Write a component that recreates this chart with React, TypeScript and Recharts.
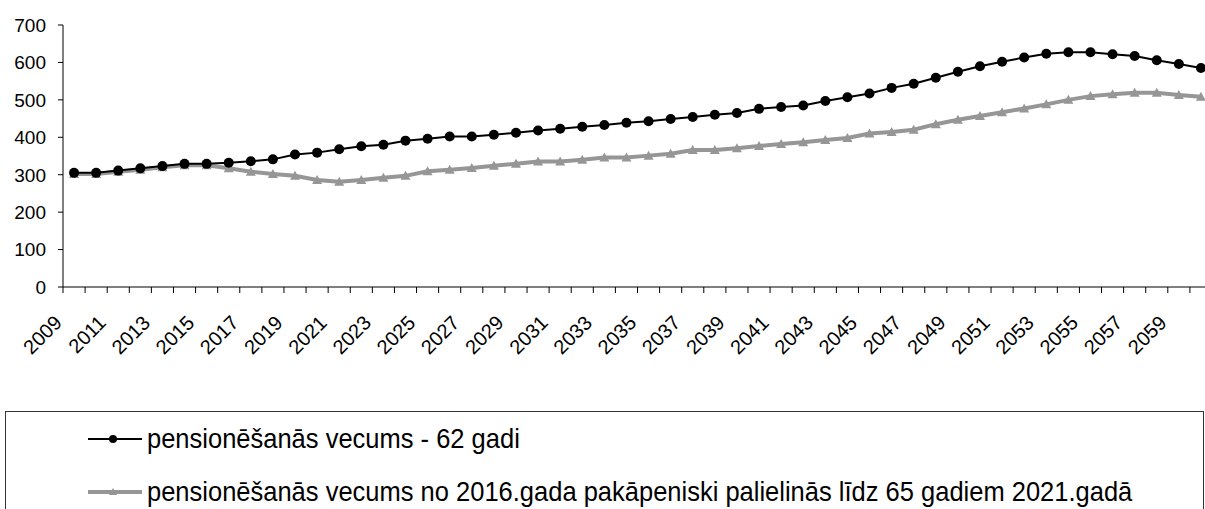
import { LineChart, Line, XAxis, YAxis } from 'recharts'

// years on the category axis
const YEARS = [
  '2009', '2010', '2011', '2012', '2013', '2014', '2015', '2016', '2017', '2018',
  '2019', '2020', '2021', '2022', '2023', '2024', '2025', '2026', '2027', '2028',
  '2029', '2030', '2031', '2032', '2033', '2034', '2035', '2036', '2037', '2038',
  '2039', '2040', '2041', '2042', '2043', '2044', '2045', '2046', '2047', '2048',
  '2049', '2050', '2051', '2052', '2053', '2054', '2055', '2056', '2057', '2058',
  '2059', '2060',
]

// retirement age stays 62
const AGE_62 = [
  305, 305, 311, 317, 323, 329, 329, 332, 336, 341,
  354, 359, 368, 376, 380, 391, 396, 402, 402, 407,
  412, 418, 423, 428, 433, 439, 443, 449, 454, 460,
  465, 476, 481, 485, 497, 507, 517, 532, 543, 559,
  575, 590, 602, 613, 623, 627, 627, 622, 617, 606,
  596, 585,
]

// retirement age raised gradually to 65 from 2016 to 2021
const AGE_65 = [
  302, 302, 308, 313, 320, 325, 325, 317, 308, 302,
  297, 286, 281, 286, 292, 297, 309, 313, 318, 324,
  329, 335, 335, 340, 346, 346, 351, 356, 366, 366,
  371, 377, 382, 387, 393, 398, 410, 414, 420, 435,
  447, 457, 467, 477, 488, 500, 510, 515, 519, 519,
  513, 508,
]

const Y_TICKS = [0, 100, 200, 300, 400, 500, 600, 700]

const SERIES_62 = 'pensionēšanās vecums - 62 gadi'
const SERIES_65 = 'pensionēšanās vecums no 2016.gada pakāpeniski palielinās līdz 65 gadiem 2021.gadā'

const FONT = '"Liberation Sans", Arial, sans-serif'
const GRAY = '#969696'

const CHART_W = 1212
const CHART_H = 360
const LEFT = 63
const BAND = (CHART_W - LEFT) / YEARS.length

const chartData = YEARS.map((year, i) => ({ year, a: AGE_62[i], b: AGE_65[i] }))

// tick marks sit between categories (Excel style), labels on every other year
function YearTick(props: any) {
  const { x, y, payload, index } = props
  const axisY = y - 6
  const i = index ?? payload.index
  const lx = x - BAND / 2
  const ly = y + 31
  return (
    <g>
      <line x1={x - BAND / 2} y1={axisY} x2={x - BAND / 2} y2={axisY + 6} stroke="#000" />
      {i % 2 === 0 && (
        <text
          x={lx}
          y={ly}
          transform={`rotate(-45 ${lx} ${ly})`}
          textAnchor="end"
          fontSize={20}
          fontFamily={FONT}
          fill="#000"
        >
          {payload.value}
        </text>
      )}
    </g>
  )
}

function ValueTick(props: any) {
  const { x, y, payload } = props
  return (
    <text x={x - 10} y={y} dy="0.36em" textAnchor="end" fontSize={19} fontFamily={FONT} fill="#000">
      {payload.value}
    </text>
  )
}

function Triangle(props: any) {
  const { cx, cy } = props
  if (cx == null || cy == null) return null
  return <path d={`M${cx - 5},${cy + 4} L${cx + 5},${cy + 4} L${cx},${cy - 5} Z`} fill={GRAY} />
}

function LegendBox() {
  const row = { display: 'flex', alignItems: 'center', height: 53 } as const
  const label = { display: 'inline-block', transform: 'scale(1, 1.1)', whiteSpace: 'nowrap' } as const
  return (
    <div
      style={{
        position: 'absolute',
        left: 5,
        top: 411,
        width: 1199,
        height: 120,
        border: '1px solid #333',
        boxSizing: 'border-box',
        fontFamily: FONT,
        fontSize: 25.5,
        color: '#000',
        paddingLeft: 82,
      }}
    >
      <div style={row}>
        <svg width={54} height={12} style={{ marginRight: 5 }}>
          <line x1={0} y1={6} x2={54} y2={6} stroke="#000" strokeWidth={2} />
          <circle cx={25} cy={6} r={4} fill="#000" />
        </svg>
        <span style={label}>{SERIES_62}</span>
      </div>
      <div style={row}>
        <svg width={54} height={12} style={{ marginRight: 5 }}>
          <line x1={0} y1={6} x2={54} y2={6} stroke={GRAY} strokeWidth={4} />
          <path d="M21,9 L29,9 L25,2 Z" fill={GRAY} />
        </svg>
        <span style={label}>{SERIES_65}</span>
      </div>
    </div>
  )
}

export default function App() {
  return (
    <div
      style={{
        position: 'absolute',
        left: 0,
        top: 0,
        width: 1205,
        height: 509,
        overflow: 'hidden',
        background: '#fff',
      }}
    >
      <LineChart
        width={CHART_W}
        height={CHART_H}
        data={chartData}
        margin={{ top: 25, right: 0, bottom: 0, left: 0 }}
      >
        <XAxis
          dataKey="year"
          interval={0}
          padding={{ left: BAND / 2, right: BAND / 2 }}
          height={CHART_H - 287}
          tickSize={6}
          tickMargin={0}
          tickLine={false}
          axisLine={{ stroke: '#000' }}
          tick={<YearTick />}
        />
        <YAxis
          width={LEFT}
          domain={[0, 700]}
          ticks={Y_TICKS}
          interval={0}
          tickSize={5}
          axisLine={{ stroke: '#000' }}
          tickLine={{ stroke: '#000' }}
          tick={<ValueTick />}
        />
        <Line
          type="linear"
          dataKey="b"
          name={SERIES_65}
          stroke={GRAY}
          strokeWidth={4}
          dot={<Triangle />}
          activeDot={false}
          isAnimationActive={false}
        />
        <Line
          type="linear"
          dataKey="a"
          name={SERIES_62}
          stroke="#000"
          strokeWidth={2}
          dot={{ r: 5, fill: '#000', stroke: 'none' }}
          activeDot={false}
          isAnimationActive={false}
        />
      </LineChart>
      <LegendBox />
    </div>
  )
}
